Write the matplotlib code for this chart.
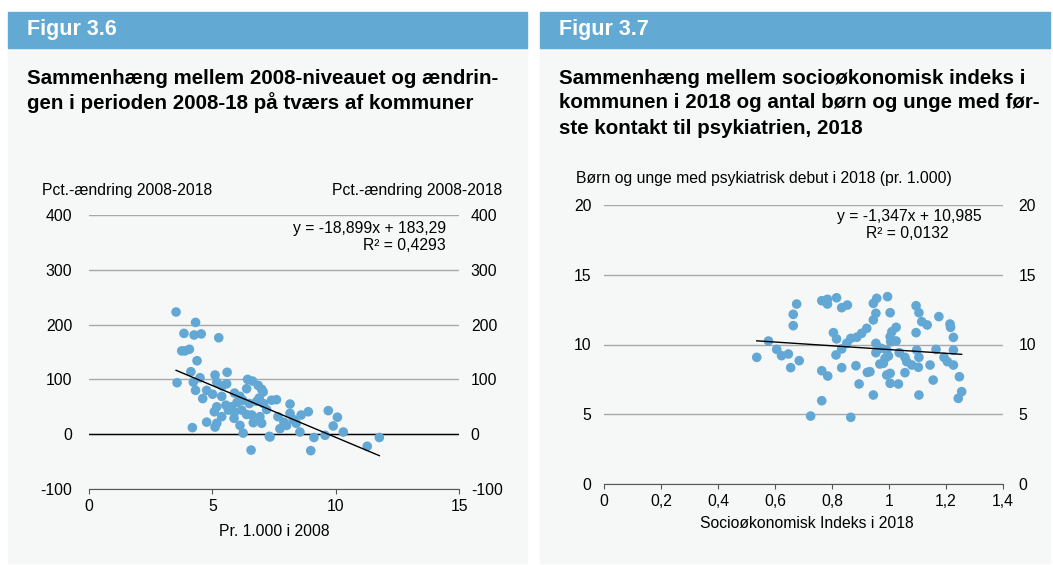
import matplotlib.pyplot as plt
from matplotlib.patches import Rectangle
import numpy as np

plt.rcParams['font.family'] = ['Liberation Sans', 'DejaVu Sans']
plt.rcParams['axes.unicode_minus'] = False

# Figur 3.6: niveau 2008 (pr. 1.000) vs pct.-aendring 2008-2018
niveau_2008 = [3.53, 4.32, 3.85, 4.26, 4.55, 5.26, 3.76, 3.89, 4.07, 4.38,
               4.13, 3.57, 4.50, 4.23, 4.32, 5.11, 5.60, 5.18, 5.58, 4.77,
               5.01, 4.61, 5.38, 6.43, 6.63, 6.39, 6.86, 7.00, 6.12, 6.23,
               6.50, 5.18, 5.55, 5.78, 5.08, 5.65, 6.19, 7.07, 7.40, 7.60,
               5.38, 5.88, 6.39, 6.60, 6.93, 4.77, 5.18, 5.11, 6.12, 6.66,
               7.00, 4.19, 6.25, 7.31, 6.57, 7.66, 7.06, 8.15, 8.15, 8.28,
               8.89, 9.70, 10.07, 9.90, 10.31, 7.74, 8.01, 8.55, 7.34, 9.12,
               9.57, 11.77, 11.28, 8.99, 5.90, 6.00, 5.40, 5.90, 6.80, 7.20,
               7.90, 8.40, 8.60, 6.90]
aendring = [223, 204, 184, 181, 183, 176, 152, 152, 155, 134,
            114, 94, 103, 95, 80, 108, 113, 95, 92, 80,
            73, 65, 69, 100, 97, 83, 89, 82, 69, 62,
            56, 50, 53, 50, 41, 44, 44, 56, 62, 63,
            32, 29, 36, 35, 32, 22, 20, 13, 16, 21,
            20, 12, 2, -4, -29, 32, 77, 55, 38, 27,
            41, 43, 31, 15, 4, 10, 16, 4, -5, -6,
            -2, -6, -22, -30, 75, 58, 88, 40, 60, 45,
            22, 20, 35, 66]
fit1 = (-18.899, 183.29)

# Figur 3.7: socioøkonomisk indeks vs psykiatrisk debut (pr. 1.000)
indeks = [0.536, 0.577, 0.606, 0.623, 0.647, 0.685, 0.655, 0.676, 0.664, 0.664,
          0.764, 0.784, 0.784, 0.816, 0.834, 0.854, 0.805, 0.816, 0.814, 0.834,
          0.852, 0.866, 0.887, 0.904, 0.922, 0.764, 0.785, 0.834, 0.884, 0.924,
          0.895, 0.945, 0.764, 0.725, 0.866, 0.945, 0.957, 0.954, 0.945, 0.954,
          0.954, 0.968, 0.995, 1.004, 1.095, 1.105, 1.115, 1.134, 1.175, 1.214,
          1.216, 1.226, 1.095, 1.025, 1.010, 1.004, 1.025, 1.006, 0.992, 0.998,
          0.986, 0.980, 1.036, 1.056, 1.062, 1.080, 1.103, 1.097, 1.105, 1.144,
          1.165, 1.193, 1.205, 1.226, 1.226, 1.056, 1.004, 0.992, 1.004, 1.033,
          1.155, 1.247, 1.255, 1.243, 1.105, 0.933, 0.972]
debut = [9.08, 10.25, 9.65, 9.20, 9.32, 8.84, 8.34, 12.90, 12.16, 11.35,
         13.14, 13.24, 12.90, 13.35, 12.64, 12.83, 10.85, 10.40, 9.25, 9.68,
         10.09, 10.44, 10.52, 10.80, 11.16, 8.12, 7.74, 8.34, 8.48, 8.00,
         7.17, 6.38, 5.97, 4.87, 4.78, 12.95, 13.31, 12.24, 11.76, 10.08,
         9.41, 8.60, 13.43, 12.28, 12.78, 12.28, 11.64, 11.40, 12.00, 11.47,
         11.23, 10.51, 10.85, 11.23, 10.92, 10.56, 10.25, 10.20, 9.60, 9.18,
         9.00, 8.65, 9.41, 9.08, 8.77, 8.53, 8.37, 9.60, 9.08, 8.53,
         9.65, 9.08, 8.77, 8.53, 9.60, 7.98, 7.93, 7.81, 7.22, 7.17,
         7.45, 7.69, 6.62, 6.14, 6.38, 8.05, 9.73]
fit2 = (-1.347, 10.985)

yticks1 = [-100, 0, 100, 200, 300, 400]
xticks1 = [0, 5, 10, 15]
yticks2 = [0, 5, 10, 15, 20]
xticks2 = [0, 0.2, 0.4, 0.6, 0.8, 1.0, 1.2, 1.4]
xticklabels2 = ['0', '0,2', '0,4', '0,6', '0,8', '1', '1,2', '1,4']

W, H = 1053, 565
BLUE = '#62a9d4'
PANEL = '#f6f8f8'
DOT = '#63a8d5'
FS = 11.3

fig = plt.figure(figsize=(W / 100, H / 100), dpi=100)
fig.patch.set_facecolor('white')


def fx(px):
    return px / W


def fy(py):
    return 1 - py / H


def panel(x0, x1, fig_label, title_lines):
    fig.patches.append(Rectangle((fx(x0), fy(563)), fx(x1 - x0), (563 - 48) / H,
                                 transform=fig.transFigure, color=PANEL, zorder=-2))
    fig.patches.append(Rectangle((fx(x0), fy(48)), fx(x1 - x0), 36 / H,
                                 transform=fig.transFigure, color=BLUE, zorder=-2))
    fig.text(fx(x0 + 19), fy(30), fig_label, color='white', fontsize=15.5,
             fontweight='bold', va='center')
    for i, line in enumerate(title_lines):
        fig.text(fx(x0 + 19), fy(78 + 25 * i), line, fontsize=14.8,
                 fontweight='bold', va='center')


def style_axes(ax, ylim, yticks, lpad, rpad):
    ax.set_facecolor('none')
    ax.set_zorder(2)
    for s in ['top', 'left', 'right']:
        ax.spines[s].set_visible(False)
    ax.spines['bottom'].set_color('#555555')
    ax.set_ylim(*ylim)
    ax.set_yticks(yticks)
    ax.grid(axis='y', color='#a8a8a8', lw=1)
    ax.set_axisbelow(True)
    ax.tick_params(axis='y', length=0, pad=lpad, labelsize=FS)
    ax.tick_params(axis='x', length=3.5, color='#555555', labelsize=FS, pad=4)
    ax2 = ax.twinx()
    ax2.set_ylim(*ylim)
    ax2.set_yticks(yticks)
    for s in ax2.spines.values():
        s.set_visible(False)
    ax2.tick_params(axis='y', length=0, pad=rpad, labelsize=FS)
    return ax2


# ---- Figur 3.6 ----
panel(8, 527, 'Figur 3.6',
      ['Sammenhæng mellem 2008-niveauet og ændrin-',
       'gen i perioden 2008-18 på tværs af kommuner'])

ax1 = fig.add_axes([fx(89), fy(489), fx(459 - 89), (489 - 215) / H])
ax1.set_xlim(0, 15)
ax1.set_xticks(xticks1)
style_axes(ax1, (-100, 400), yticks1, 12, 8.5)
ax1.axhline(0, color='black', lw=1, zorder=1)
ax1.scatter(niveau_2008, aendring, s=48, color=DOT, edgecolors='none', zorder=3)
xl = np.array([min(niveau_2008), max(niveau_2008)])
ax1.plot(xl, fit1[0] * xl + fit1[1], color='black', lw=1, zorder=4)

fig.text(fx(42), fy(190), 'Pct.-ændring 2008-2018', fontsize=FS, va='center')
fig.text(fx(502), fy(190), 'Pct.-ændring 2008-2018', fontsize=FS, va='center', ha='right')
fig.text(fx(446), fy(228), 'y = -18,899x + 183,29', fontsize=FS, va='center', ha='right')
fig.text(fx(446), fy(246), 'R² = 0,4293', fontsize=FS, va='center', ha='right')
fig.text(fx(274), fy(531), 'Pr. 1.000 i 2008', fontsize=FS, va='center', ha='center')

# ---- Figur 3.7 ----
panel(540, 1050, 'Figur 3.7',
      ['Sammenhæng mellem socioøkonomisk indeks i',
       'kommunen i 2018 og antal børn og unge med før-',
       'ste kontakt til psykiatrien, 2018'])

ax3 = fig.add_axes([fx(604), fy(484), fx(1003 - 604), (484 - 205) / H])
ax3.set_xlim(0, 1.4)
ax3.set_xticks(xticks2)
ax3.set_xticklabels(xticklabels2)
style_axes(ax3, (0, 20), yticks2, 9, 11)
ax3.scatter(indeks, debut, s=48, color=DOT, edgecolors='none', zorder=3)
xl = np.array([min(indeks), max(indeks)])
ax3.plot(xl, fit2[0] * xl + fit2[1], color='black', lw=1, zorder=4)

fig.text(fx(576), fy(178), 'Børn og unge med psykiatrisk debut i 2018 (pr. 1.000)',
         fontsize=FS, va='center')
fig.text(fx(909), fy(216), 'y = -1,347x + 10,985', fontsize=FS, va='center', ha='center')
fig.text(fx(907), fy(233), 'R² = 0,0132', fontsize=FS, va='center', ha='center')
fig.text(fx(807), fy(523), 'Socioøkonomisk Indeks i 2018', fontsize=FS, va='center', ha='center')

fig.savefig('out.png', dpi=100)
